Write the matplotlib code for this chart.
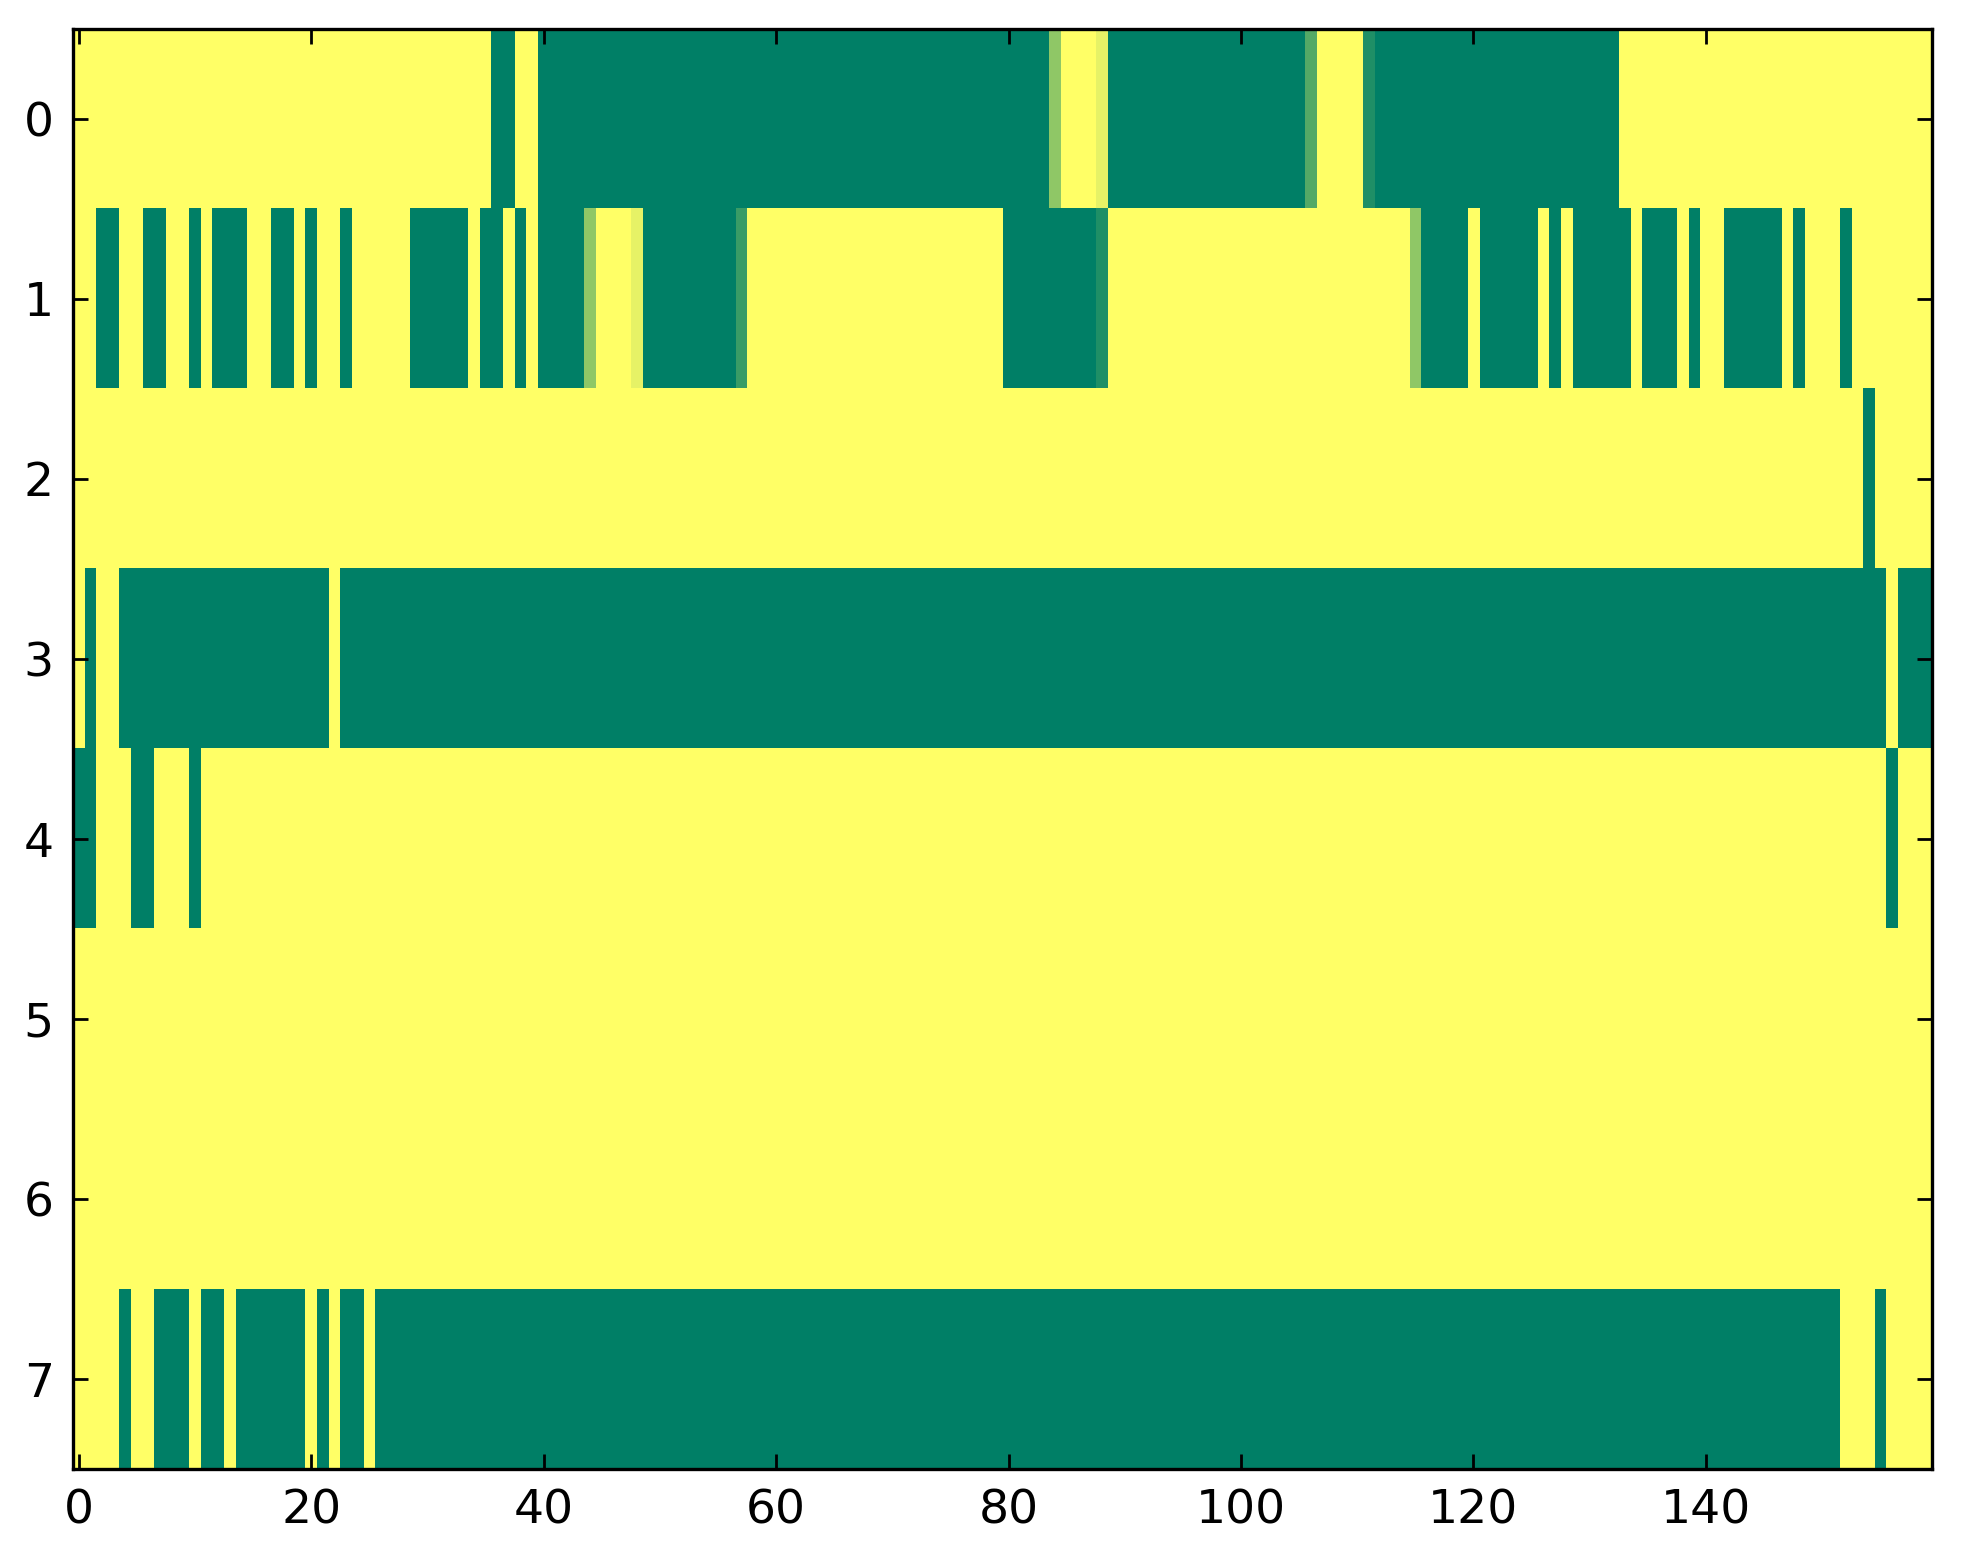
import numpy as np
import matplotlib
matplotlib.use("Agg")
import matplotlib.pyplot as plt

# Each row: '.' = 0, '#' = 1, letters = intermediate values
code_values = {'.': 0.0, '#': 1.0, 'a': 0.44, 'b': 0.10, 'c': 0.67, 'd': 0.875, 'e': 0.77}

row0 = "." * 36 + "##" + ".." + "#" * 44 + "a" + "..." + "b" + "#" * 17 + "c" + "...." + "d" + "#" * 21 + "." * 27
row1 = ("..##..##..#.###..##.#..#....." + "#####.##.#.####" + "a...b" + "#" * 8 + "e" + "." * 22
        + "#" * 8 + "d" + "." * 26 + "a" + "####.#####.#.#####.###.#..#####.#...#" + "." * 7)
row2 = "." * 154 + "#" + "." * 5
row3 = ".#.." + "#" * 18 + "." + "#" * 133 + "." + "###"
row4 = "##...##...#" + "." * 145 + "#" + "..."
row5 = "." * 160
row6 = "." * 160
row7 = "....#..###.##.######.#.##." + "#" * 126 + "...#...."

rows = [row0, row1, row2, row3, row4, row5, row6, row7]
x_ticks = [0, 20, 40, 60, 80, 100, 120, 140]
y_ticks = [0, 1, 2, 3, 4, 5, 6, 7]

data = np.array([[code_values[c] for c in r] for r in rows])

fig = plt.figure(figsize=(1963 / 200, 1564 / 200), dpi=200, facecolor="white")
ax = fig.add_axes([0.0373, 0.0607, 0.9471, 0.9208])
ax.imshow(data, cmap="summer_r", vmin=0, vmax=1, aspect="auto", interpolation="nearest")
ax.set_xticks(x_ticks)
ax.set_yticks(y_ticks)
ax.set_xlim(-0.5, data.shape[1] - 0.5)
ax.set_ylim(data.shape[0] - 0.5, -0.5)
ax.tick_params(direction="in", top=True, right=True, length=5.4, width=1.0,
               labelsize=17, pad=7, colors="black")
for s in ax.spines.values():
    s.set_linewidth(1.2)

fig.savefig("out.png", dpi=200, facecolor="white")
